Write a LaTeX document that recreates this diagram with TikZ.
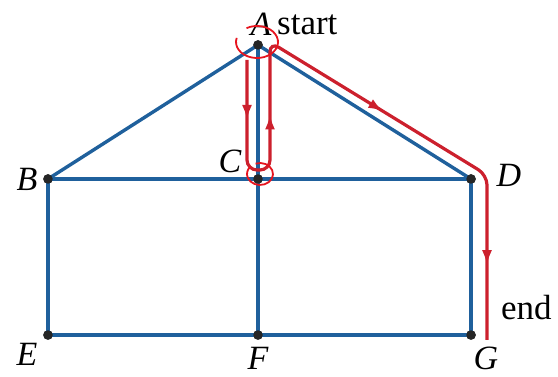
\documentclass[tikz,border=0pt]{standalone}
\usepackage{fontspec}
\setmainfont{Liberation Serif}
\usetikzlibrary{decorations.markings,arrows.meta}
\definecolor{edgeblue}{RGB}{31,96,156}
\definecolor{pathred}{RGB}{204,32,45}
\definecolor{ringred}{RGB}{230,20,30}
\begin{document}
\begin{tikzpicture}[x=1pt,y=-1pt,
 edge/.style={draw=edgeblue,line width=3.4pt},
 vertex/.style={circle,fill=black!85,inner sep=0pt,minimum size=9.5pt},
 lbl/.style={font=\fontsize{34}{38}\selectfont\itshape,inner sep=0pt},
 txt/.style={font=\fontsize{35}{38}\selectfont,inner sep=0pt},
 route/.style={draw=pathred,line width=3.2pt,rounded corners=10pt},
 ring/.style={draw=ringred,line width=1.8pt}]
\useasboundingbox (0,0) rectangle (558,377);
% vertices
\node[vertex] (A) at (258,45) {};
\node[vertex] (B) at (48,179) {};
\node[vertex] (C) at (258,179) {};
\node[vertex] (D) at (471,179) {};
\node[vertex] (E) at (48,335) {};
\node[vertex] (F) at (258,335) {};
\node[vertex] (G) at (471,335) {};
% edges
\draw[edge] (A.center) -- (B.center);
\draw[edge] (A.center) -- (D.center);
\draw[edge] (A.center) -- (C.center);
\draw[edge] (B.center) -- (C.center) -- (D.center);
\draw[edge] (B.center) -- (E.center) -- (F.center) -- (G.center) -- (D.center);
\draw[edge] (C.center) -- (F.center);
\foreach \v in {A,B,C,D,E,F,G} \node[vertex] at (\v) {};
% labels
\node[lbl] (lA) at (261,24) {A};
\node[txt,anchor=base west] (lstart) at (277,35) {start};
\node[lbl] (lB) at (27,179) {B};
\node[lbl] (lC) at (230,161) {C};
\node[lbl] (lD) at (509,175) {D};
\node[lbl] (lE) at (27,354) {E};
\node[lbl] (lF) at (258,358) {F};
\node[lbl] (lG) at (486,358) {G};
\node[txt,anchor=base west] (lend) at (501,320) {end};
% route
\coordinate (r1) at (247,60);
\coordinate (r2) at (247,170);
\coordinate (r3) at (270,170);
\coordinate (r4) at (270,42);
\coordinate (r5) at (487,175);
\coordinate (r6) at (487,340);
\draw[route,postaction={decorate},decoration={markings,
  mark=at position 60pt with {\arrow{Latex[length=15pt,width=10pt]}},
  mark=at position 180pt with {\arrow{Latex[length=15pt,width=10pt]}},
  mark=at position 378pt with {\arrow{Latex[length=15pt,width=10pt]}},
  mark=at position 588pt with {\arrow{Latex[length=15pt,width=10pt]}}}]
  (r1) -- (r2) -- (r3) -- (r4) -- (r5) -- (r6);
% hand-drawn rings
\draw[ring] (257,42) ++(240:21 and 16) arc[start angle=240,end angle=555,x radius=21,y radius=16];
\draw[ring] (260,174) ++(250:13 and 11) arc[start angle=250,end angle=580,x radius=13,y radius=11];
\end{tikzpicture}
\end{document}
